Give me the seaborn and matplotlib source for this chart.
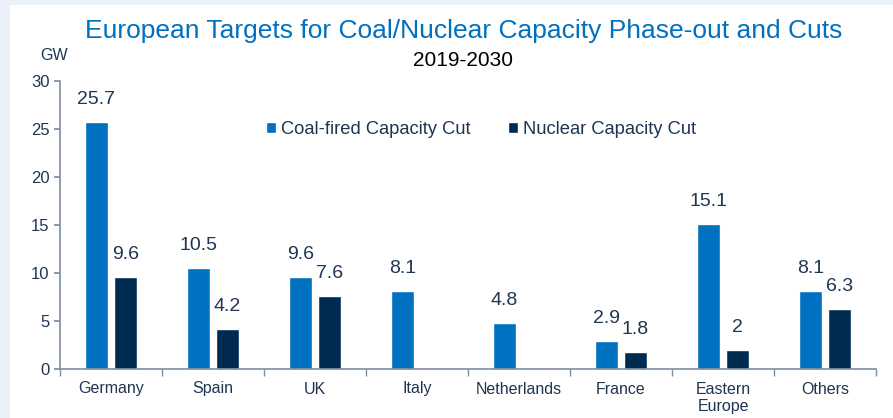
import numpy as np
import pandas as pd
import matplotlib
matplotlib.use('Agg')
import matplotlib.pyplot as plt
from matplotlib.patches import Rectangle
import seaborn as sns

regions = ['Germany', 'Spain', 'UK', 'Italy', 'Netherlands', 'France', 'Eastern\nEurope', 'Others']
coal_cut = [25.7, 10.5, 9.6, 8.1, 4.8, 2.9, 15.1, 8.1]
nuclear_cut = [9.6, 4.2, 7.6, np.nan, np.nan, 1.8, 2.0, 6.3]
series_names = ['Coal-fired Capacity Cut', 'Nuclear Capacity Cut']
y_ticks = [0, 5, 10, 15, 20, 25, 30]

COAL = '#0070C0'
NUC = '#002B50'
TXT = '#1F3550'
SPINE = '#7F8EA3'

df = pd.DataFrame({
    'region': regions * 2,
    'value': coal_cut + nuclear_cut,
    'series': [series_names[0]] * len(regions) + [series_names[1]] * len(regions),
})

sns.set_theme(style='white')
plt.rcParams['font.family'] = ['Liberation Sans', 'DejaVu Sans']

fig = plt.figure(figsize=(8.93, 4.18), dpi=100)
fig.patch.set_facecolor('#EAF1F8')
# white panel inside the light frame
fig.patches.append(Rectangle((10 / 893, 0), 1, 1 - 5 / 418, transform=fig.transFigure,
                             facecolor='white', edgecolor='none', zorder=-5))

ax = fig.add_axes([60 / 893, (418 - 369) / 418, (876 - 60) / 893, (369 - 81) / 418])
ax.set_zorder(2)
ax.patch.set_alpha(0)

sns.barplot(data=df, x='region', y='value', hue='series', order=regions,
            hue_order=series_names, palette=[COAL, NUC], width=0.57, gap=0.24,
            saturation=1, ax=ax, legend=True)

for cont in ax.containers:
    labels = []
    for v in cont.datavalues:
        if np.isnan(v):
            labels.append('')
        else:
            labels.append(f'{v:g}')
    ax.bar_label(cont, labels=labels, padding=10, fontsize=14, color=TXT)

ax.set_ylim(0, 30)
ax.set_yticks(y_ticks)
ax.set_xlim(-0.5, len(regions) - 0.5)
ax.set_xticks(np.arange(len(regions) + 1) - 0.5, minor=True)
ax.tick_params(axis='x', which='major', length=0, labelsize=11.5, labelcolor=TXT, pad=9)
ax.tick_params(axis='x', which='minor', length=5, color=SPINE, direction='out', bottom=True)
ax.tick_params(axis='y', length=4, color=SPINE, labelsize=12, labelcolor=TXT, direction='out', left=True)
ax.set_xlabel('')
ax.set_ylabel('')
for s in ['top', 'right']:
    ax.spines[s].set_visible(False)
for s in ['left', 'bottom']:
    ax.spines[s].set_color(SPINE)
    ax.spines[s].set_linewidth(1.2)

leg = ax.legend(loc='center', bbox_to_anchor=(0.516, 0.83), ncol=2, frameon=False,
                fontsize=13.2, handlelength=0.55, handleheight=0.55, handletextpad=0.3,
                columnspacing=2.0)
for t in leg.get_texts():
    t.set_color(TXT)

fig.text(464 / 893, 1 - 31 / 418, 'European Targets for Coal/Nuclear Capacity Phase-out and Cuts',
         ha='center', va='center', fontsize=19, color=COAL)
fig.text(463 / 893, 1 - 60 / 418, '2019-2030', ha='center', va='center', fontsize=15, color='black')
fig.text(54 / 893, 1 - 56 / 418, 'GW', ha='center', va='center', fontsize=11.5, color=TXT)

fig.savefig('out.png', dpi=100, facecolor=fig.get_facecolor())
